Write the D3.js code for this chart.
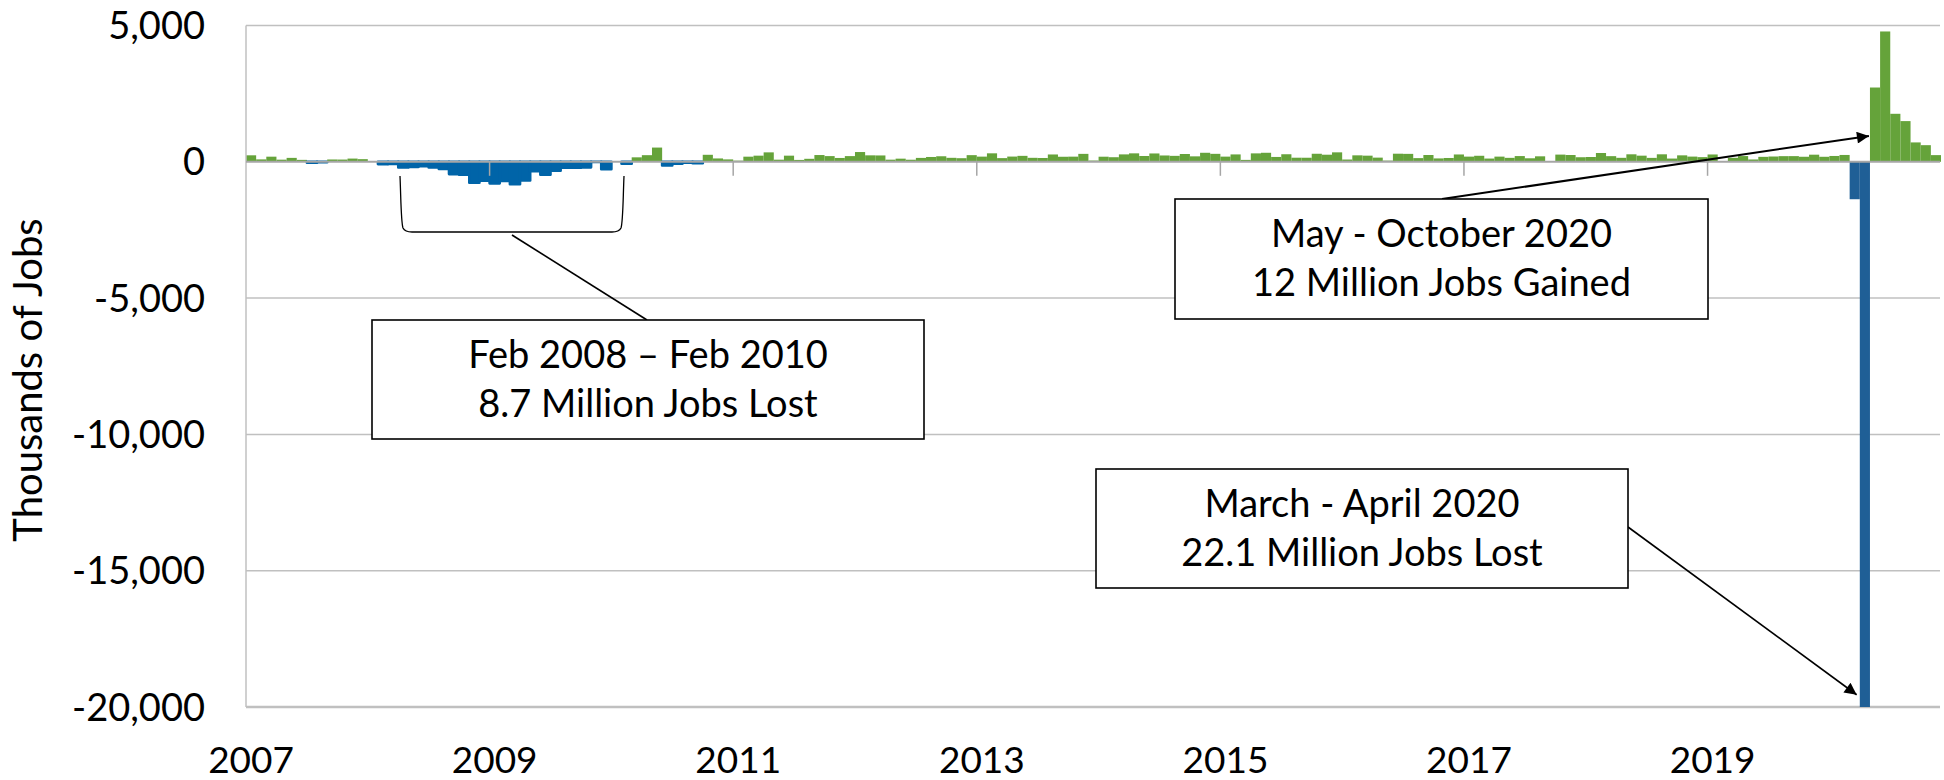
<!DOCTYPE html>
<html>
<head>
<meta charset="utf-8">
<script src="https://cdn.jsdelivr.net/npm/d3@7/dist/d3.min.js"></script>
<style>
  body { margin: 0; background: #fff; }
  text { font-family: Lato, "Noto Sans", sans-serif; fill: #000; }
</style>
</head>
<body>
<svg id="chart" width="1944" height="780"></svg>
<script>
// monthly change in nonfarm payrolls, thousands of jobs
var jobs2007 = [238, 88, 188, 78, 144, 71, -33, -16, 85, 82, 118, 97];
var jobs2008 = [17, -84, -78, -210, -185, -165, -209, -266, -452, -473, -769, -695];
var jobs2009 = [-791, -703, -823, -687, -349, -471, -329, -213, -220, -204, -4, -275];
var jobs2010 = [14, -68, 164, 243, 522, -133, -70, -34, -52, 257, 123, 88];
var jobs2011 = [42, 188, 225, 346, 77, 225, 69, 110, 248, 209, 141, 209];
var jobs2012 = [358, 237, 233, 78, 115, 76, 143, 177, 203, 146, 132, 244];
var jobs2013 = [190, 311, 135, 192, 218, 146, 140, 269, 185, 189, 291, 45];
var jobs2014 = [187, 168, 272, 310, 213, 306, 232, 218, 286, 200, 331, 292];
var jobs2015 = [190, 271, 70, 309, 331, 178, 277, 150, 149, 295, 260, 347];
var jobs2016 = [83, 237, 225, 153, 43, 297, 291, 135, 249, 124, 140, 269];
var jobs2017 = [190, 221, 119, 190, 145, 210, 129, 201, 18, 264, 249, 167];
var jobs2018 = [176, 323, 207, 146, 275, 225, 144, 275, 119, 237, 191, 171];
var jobs2019 = [269, 1, 147, 210, 85, 182, 194, 207, 208, 185, 261, 184];
var jobs2020 = [214, 251, -1373, -20787, 2725, 4781, 1761, 1493, 711, 610, 245];

var years = [2007, 2008, 2009, 2010, 2011, 2012, 2013, 2014, 2015, 2016, 2017, 2018, 2019, 2020];
var yearLabels = ["2007", "2009", "2011", "2013", "2015", "2017", "2019"];
var yTicks = [5000, 0, -5000, -10000, -15000, -20000];

var notes = [
  { lines: ["Feb 2008 \u2013 Feb 2010", "8.7 Million Jobs Lost"] },
  { lines: ["May - October 2020", "12 Million Jobs Gained"] },
  { lines: ["March - April 2020", "22.1 Million Jobs Lost"] }
];

var series = [jobs2007, jobs2008, jobs2009, jobs2010, jobs2011, jobs2012, jobs2013,
              jobs2014, jobs2015, jobs2016, jobs2017, jobs2018, jobs2019, jobs2020];

var data = [];
series.forEach(function (vals, yi) {
  vals.forEach(function (v, m) {
    data.push({ year: years[yi], month: m, value: v });
  });
});

var svg = d3.select("#chart"),
    plotLeft = 246,
    plotRight = 1941,
    plotTop = 25.5,
    plotBottom = 707;

var x = d3.scaleBand()
  .domain(d3.range(data.length))
  .range([plotLeft, plotRight])
  .padding(0);

var y = d3.scaleLinear()
  .domain([-20000, 5000])
  .range([plotBottom, plotTop]);

var green = "#65a33a",
    blueOld = "#0064a8",
    blueNew = "#1f5f96",
    gridGray = "#c0c0c0";

var fmt = function (d) { return d3.format(",")(d).replace("\u2212", "-"); };

var defs = svg.append("defs");

// gridlines
svg.append("g")
  .selectAll("line")
  .data(yTicks.filter(function (t) { return t !== 0; }))
  .enter().append("line")
    .attr("x1", plotLeft)
    .attr("x2", plotRight - 1)
    .attr("y1", function (d) { return y(d); })
    .attr("y2", function (d) { return y(d); })
    .attr("stroke", gridGray)
    .attr("stroke-width", function (d) { return d === -20000 ? 2.5 : 1.5; });

defs.append("clipPath")
    .attr("id", "plot")
  .append("rect")
    .attr("x", plotLeft)
    .attr("y", plotTop)
    .attr("width", plotRight - plotLeft)
    .attr("height", plotBottom - plotTop);

// bars
svg.append("g")
    .attr("clip-path", "url(#plot)")
  .selectAll("rect")
  .data(data)
  .enter().append("rect")
    .attr("x", function (d, i) { return x(i); })
    .attr("width", x.bandwidth())
    .attr("y", function (d) { return y(Math.max(0, d.value)); })
    .attr("height", function (d) { return Math.abs(y(d.value) - y(0)); })
    .attr("fill", function (d) {
      if (d.value >= 0) return green;
      return d.year >= 2020 ? blueNew : blueOld;
    })
    .attr("stroke", function (d) {
      return (d.value < 0 && d.year < 2020) ? blueOld : "none";
    })
    .attr("stroke-width", 2.6)
    .attr("stroke-linejoin", "round");

// left axis line
svg.append("line")
  .attr("x1", plotLeft).attr("x2", plotLeft)
  .attr("y1", plotTop).attr("y2", plotBottom)
  .attr("stroke", gridGray)
  .attr("stroke-width", 1.5);

// zero axis line with ticks at each labelled January
svg.append("line")
  .attr("x1", plotLeft).attr("x2", plotRight - 1)
  .attr("y1", y(0)).attr("y2", y(0))
  .attr("stroke", "#a6a6a6")
  .attr("stroke-width", 2);

var janIdx = data.map(function (d, i) { return i; })
  .filter(function (i) { return data[i].month === 0 && yearLabels.indexOf(String(data[i].year)) >= 0; });

svg.append("g")
  .selectAll("line")
  .data(janIdx.slice(1))
  .enter().append("line")
    .attr("x1", function (i) { return x(i); })
    .attr("x2", function (i) { return x(i); })
    .attr("y1", y(0))
    .attr("y2", y(0) + 14)
    .attr("stroke", "#a6a6a6")
    .attr("stroke-width", 1.5);

// y tick labels
svg.append("g")
  .selectAll("text")
  .data(yTicks)
  .enter().append("text")
    .attr("x", 205)
    .attr("y", function (d) { return y(d); })
    .attr("dy", "0.36em")
    .attr("text-anchor", "end")
    .style("font-size", "38px")
    .text(fmt);

// x labels
svg.append("g")
  .selectAll("text")
  .data(janIdx)
  .enter().append("text")
    .attr("x", function (i) { return x(i) + x.bandwidth() / 2; })
    .attr("y", 773)
    .attr("text-anchor", "middle")
    .style("font-size", "37px")
    .text(function (i) { return String(data[i].year); });

// y axis title
svg.append("text")
  .attr("transform", "translate(42,380) rotate(-90)")
  .attr("text-anchor", "middle")
  .style("font-size", "40px")
  .text("Thousands of Jobs");

// annotations
defs.append("marker")
    .attr("id", "arrow")
    .attr("viewBox", "0 0 10 10")
    .attr("refX", 10)
    .attr("refY", 5)
    .attr("markerWidth", 16)
    .attr("markerHeight", 12)
    .attr("markerUnits", "userSpaceOnUse")
    .attr("orient", "auto")
  .append("path")
    .attr("d", "M0,0 L10,5 L0,10 z")
    .attr("fill", "#000");

var ann = svg.append("g");

// bracket under the 2008-2010 losses
ann.append("path")
  .attr("d", "M400,176 C401,200 401,222 403,228 Q405,232 412,232 L612,232 Q619,232 621,228 C623,222 623,200 624,176")
  .attr("fill", "none")
  .attr("stroke", "#000")
  .attr("stroke-width", 1.3);

ann.append("line")
  .attr("x1", 512).attr("y1", 235)
  .attr("x2", 647).attr("y2", 320)
  .attr("stroke", "#000")
  .attr("stroke-width", 1.6);

// arrow to the 2020 gains
ann.append("line")
  .attr("x1", 1442).attr("y1", 199)
  .attr("x2", x(160) - 1).attr("y2", y(950))
  .attr("stroke", "#000")
  .attr("stroke-width", 2)
  .attr("marker-end", "url(#arrow)");

// arrow to the 2020 losses
ann.append("line")
  .attr("x1", 1628).attr("y1", 527)
  .attr("x2", x(158) + 7).attr("y2", y(-19550))
  .attr("stroke", "#000")
  .attr("stroke-width", 1.6)
  .attr("marker-end", "url(#arrow)");

var boxes = [
  { x: 372, y: 320, w: 552, h: 119 },
  { x: 1175, y: 199, w: 533, h: 120 },
  { x: 1096, y: 469, w: 532, h: 119 }
];

boxes.forEach(function (b, i) {
  var g = ann.append("g");
  g.append("rect")
    .attr("x", b.x).attr("y", b.y)
    .attr("width", b.w).attr("height", b.h)
    .attr("fill", "#fff")
    .attr("stroke", "#000")
    .attr("stroke-width", 1.6);
  g.selectAll("text")
    .data(notes[i].lines)
    .enter().append("text")
      .attr("x", b.x + b.w / 2)
      .attr("y", function (d, j) { return b.y + 48 + j * 49; })
      .attr("text-anchor", "middle")
      .style("font-size", "38px")
      .text(function (d) { return d; });
});
</script>
</body>
</html>
